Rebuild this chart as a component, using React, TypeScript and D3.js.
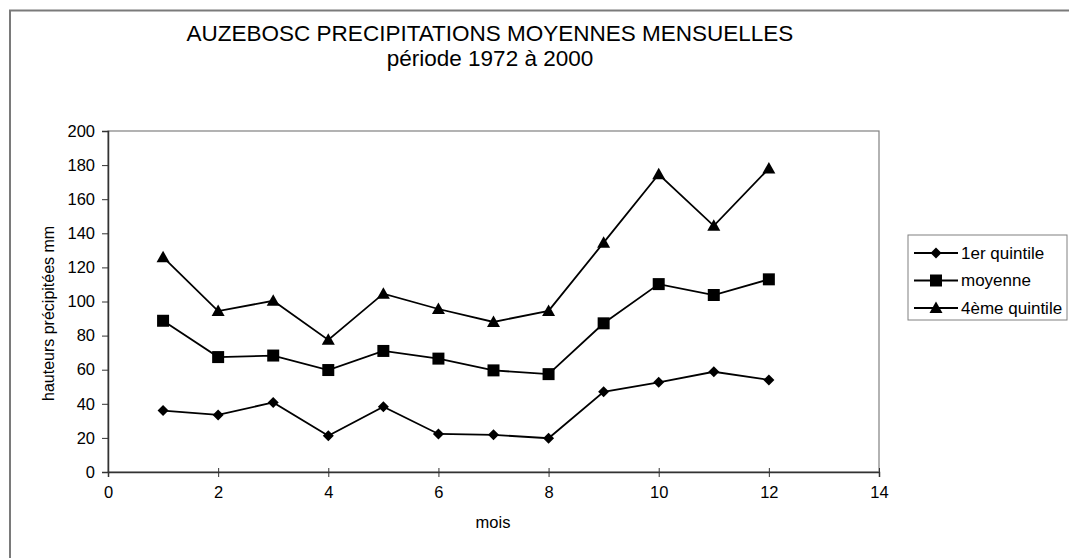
import * as d3 from "d3";
import { useEffect, useRef } from "react";

const MONTHS = [1, 2, 3, 4, 5, 6, 7, 8, 9, 10, 11, 12];
const QUINTILE_1 = [36, 33.5, 40.8, 21.3, 38.3, 22.3, 21.8, 19.8, 47, 52.6, 58.8, 54];
const MOYENNE = [88.7, 67.4, 68.3, 59.8, 71, 66.5, 59.6, 57.4, 87.2, 110.2, 103.8, 113];
const QUINTILE_4 = [126, 94.4, 100.4, 77.5, 104.6, 95.6, 88, 94.5, 134.5, 174.6, 144.4, 178];
const SERIES_NAMES = ["1er quintile", "moyenne", "4ème quintile"];
const X_TICKS = [0, 2, 4, 6, 8, 10, 12, 14];
const Y_TICKS = [0, 20, 40, 60, 80, 100, 120, 140, 160, 180, 200];

const W = 1069;
const H = 558;
const FONT = "'Liberation Sans', Arial, sans-serif";

type Sym = "diamond" | "square" | "triangle";

function markerPath(sym: Sym) {
  if (sym === "diamond") return "M0,-5.5L5.5,0L0,5.5L-5.5,0Z";
  if (sym === "square") return "M-6,-6H6V6H-6Z";
  return "M0,-6.5L6.5,5L-6.5,5Z";
}

export default function App() {
  const svgRef = useRef<SVGSVGElement>(null);

  useEffect(() => {
    const svg = d3.select(svgRef.current);
    svg.selectAll("*").remove();

    const left = 108;
    const top = 131;
    const right = 879;
    const bottom = 472;

    const x = d3.scaleLinear().domain([0, 14]).range([left, right]);
    const y = d3.scaleLinear().domain([0, 200]).range([bottom, top]);

    svg.append("rect").attr("width", W).attr("height", H).attr("fill", "#fff");

    // outer chart frame (runs off the right and bottom edges)
    svg
      .append("rect")
      .attr("x", 10)
      .attr("y", 10.5)
      .attr("width", W + 20)
      .attr("height", H + 20)
      .attr("fill", "none")
      .attr("stroke", "#7a7a7a")
      .attr("stroke-width", 2);

    // title
    svg
      .append("text")
      .attr("x", 490)
      .attr("y", 41)
      .attr("text-anchor", "middle")
      .attr("font-family", FONT)
      .attr("font-size", 22.5)
      .attr("fill", "#000")
      .text("AUZEBOSC PRECIPITATIONS MOYENNES MENSUELLES");
    svg
      .append("text")
      .attr("x", 490)
      .attr("y", 66)
      .attr("text-anchor", "middle")
      .attr("font-family", FONT)
      .attr("font-size", 22.5)
      .attr("fill", "#000")
      .text("période 1972 à 2000");

    // plot area frame
    svg
      .append("rect")
      .attr("x", left)
      .attr("y", top)
      .attr("width", right - left)
      .attr("height", bottom - top)
      .attr("fill", "none")
      .attr("stroke", "#808080")
      .attr("stroke-width", 1.2);

    // y axis
    svg
      .append("g")
      .attr("transform", `translate(${left},0)`)
      .call(d3.axisLeft(y).tickValues(Y_TICKS).tickSize(6).tickPadding(7))
      .call((s) => s.select(".domain").attr("stroke", "#333").attr("stroke-width", 1.5))
      .call((s) => s.selectAll(".tick line").attr("stroke", "#333"))
      .call((s) =>
        s
          .selectAll("text")
          .attr("fill", "#000")
          .attr("font-size", 16.5)
          .attr("font-family", FONT),
      );

    // x axis
    svg
      .append("g")
      .attr("transform", `translate(0,${bottom})`)
      .call(d3.axisBottom(x).tickValues(X_TICKS).tickSize(5).tickPadding(9))
      .call((s) => s.select(".domain").attr("stroke", "#333").attr("stroke-width", 1.5))
      .call((s) => s.selectAll(".tick line").attr("stroke", "#333").attr("y1", -4))
      .call((s) =>
        s
          .selectAll("text")
          .attr("fill", "#000")
          .attr("font-size", 16.5)
          .attr("font-family", FONT),
      );

    svg
      .append("text")
      .attr("x", 493)
      .attr("y", 528)
      .attr("text-anchor", "middle")
      .attr("font-family", FONT)
      .attr("font-size", 16.5)
      .text("mois");

    // y title, clipped at the top like the original
    svg
      .append("clipPath")
      .attr("id", "ytitle-clip")
      .append("rect")
      .attr("x", 0)
      .attr("y", 184)
      .attr("width", 100)
      .attr("height", 300);
    svg
      .append("g")
      .attr("clip-path", "url(#ytitle-clip)")
      .append("text")
      .attr("transform", `translate(54,401) rotate(-90)`)
      .attr("text-anchor", "start")
      .attr("font-family", FONT)
      .attr("font-size", 16)
      .attr("fill", "#000")
      .text("hauteurs précipitées mm");

    const series: { name: string; values: number[]; sym: Sym }[] = [
      { name: SERIES_NAMES[0], values: QUINTILE_1, sym: "diamond" },
      { name: SERIES_NAMES[1], values: MOYENNE, sym: "square" },
      { name: SERIES_NAMES[2], values: QUINTILE_4, sym: "triangle" },
    ];

    const line = d3
      .line<number>()
      .x((_, i) => x(MONTHS[i]))
      .y((d) => y(d));

    series.forEach((s) => {
      svg
        .append("path")
        .datum(s.values)
        .attr("fill", "none")
        .attr("stroke", "#000")
        .attr("stroke-width", 1.8)
        .attr("d", line);
      svg
        .append("g")
        .selectAll("path")
        .data(s.values)
        .join("path")
        .attr("transform", (d, i) => `translate(${x(MONTHS[i])},${y(d)})`)
        .attr("d", markerPath(s.sym))
        .attr("fill", "#000");
    });

    // legend
    const lg = svg.append("g");
    lg.append("rect")
      .attr("x", 908)
      .attr("y", 235)
      .attr("width", 159)
      .attr("height", 85)
      .attr("fill", "#fff")
      .attr("stroke", "#808080")
      .attr("stroke-width", 1);
    series.forEach((s, i) => {
      const cy = 253 + i * 27.5;
      lg.append("line")
        .attr("x1", 914)
        .attr("x2", 958)
        .attr("y1", cy)
        .attr("y2", cy)
        .attr("stroke", "#000")
        .attr("stroke-width", 1.8);
      lg.append("path")
        .attr("transform", `translate(936,${cy})`)
        .attr("d", markerPath(s.sym))
        .attr("fill", "#000");
      lg.append("text")
        .attr("x", 961)
        .attr("y", cy)
        .attr("dominant-baseline", "central")
        .attr("font-family", FONT)
        .attr("font-size", 17)
        .text(s.name);
    });
  }, []);

  return (
    <svg
      ref={svgRef}
      width={W}
      height={H}
      style={{ position: "absolute", left: 0, top: 0, display: "block" }}
    />
  );
}
